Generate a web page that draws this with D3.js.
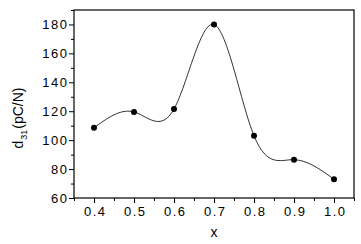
<!DOCTYPE html>
<html>
<head>
<meta charset="utf-8">
<script src="https://cdn.jsdelivr.net/npm/d3@7"></script>
<style>
  body { margin: 0; background: #fff; }
  text { font-family: "Liberation Sans", Arial, sans-serif; fill: #000; }
</style>
</head>
<body>
<svg id="chart" width="361" height="244"></svg>
<script>
// data
const xValues = [0.4, 0.5, 0.6, 0.7, 0.8, 0.9, 1.0];
const d31Values = [108.5, 119.5, 121.5, 180, 103, 86.5, 73];
const xTicks = [0.4, 0.5, 0.6, 0.7, 0.8, 0.9, 1.0];
const yTicks = [60, 80, 100, 120, 140, 160, 180];

const svg = d3.select("#chart");
const margin = { left: 74, top: 10, right: 7, bottom: 46 };
const width = 361 - margin.left - margin.right;
const height = 244 - margin.top - margin.bottom;

const g = svg.append("g")
    .attr("transform", `translate(${margin.left},${margin.top})`);

const x = d3.scaleLinear().domain([0.35, 1.05]).range([0, width]);
const y = d3.scaleLinear().domain([60, 190]).range([height, 0]);

// minor ticks
g.append("g")
    .attr("transform", `translate(0,${height})`)
    .call(d3.axisBottom(x).tickValues(d3.range(0.35, 1.06, 0.1)).tickSize(3).tickFormat(""))
    .call(a => a.select(".domain").remove());
g.append("g")
    .call(d3.axisLeft(y).tickValues(d3.range(70, 191, 20)).tickSize(3).tickFormat(""))
    .call(a => a.select(".domain").remove());

// major ticks
const xAxis = g.append("g")
    .attr("transform", `translate(0,${height})`)
    .call(d3.axisBottom(x).tickValues(xTicks).tickSize(5).tickPadding(4).tickFormat(d3.format(".1f")));
const yAxis = g.append("g")
    .call(d3.axisLeft(y).tickValues(yTicks).tickSize(5).tickPadding(2));

[xAxis, yAxis].forEach(a => {
  a.selectAll("text").style("font-size", "13px").style("letter-spacing", "1.5px");
  a.select(".domain").remove();
});
yAxis.selectAll("text").attr("dx", "1.5px");
xAxis.selectAll("text").attr("dx", "0.75px");

// frame
g.append("rect")
    .attr("width", width)
    .attr("height", height)
    .attr("fill", "none")
    .attr("stroke", "#000")
    .attr("stroke-width", 1.2);

// smooth curve
const line = d3.line()
    .x((d, i) => x(xValues[i]))
    .y(d => y(d))
    .curve(d3.curveNatural);

g.append("path")
    .datum(d31Values)
    .attr("d", line)
    .attr("fill", "none")
    .attr("stroke", "#000")
    .attr("stroke-width", 0.8);

g.selectAll("circle.pt")
    .data(d31Values)
    .enter()
    .append("circle")
    .attr("class", "pt")
    .attr("cx", (d, i) => x(xValues[i]))
    .attr("cy", d => y(d))
    .attr("r", 3)
    .attr("fill", "#000");

// axis titles
svg.append("text")
    .attr("x", margin.left + width / 2)
    .attr("y", 237)
    .attr("text-anchor", "middle")
    .style("font-size", "14px")
    .text("x");

const yl = svg.append("text")
    .attr("transform", "translate(23,118) rotate(-90)")
    .attr("text-anchor", "middle")
    .style("font-size", "14px");
yl.append("tspan").text("d");
yl.append("tspan").attr("dy", 4).attr("dx", 1).style("font-size", "9px").text("31");
yl.append("tspan").attr("dy", -4).attr("dx", 1).text("(pC/N)");
</script>
</body>
</html>
